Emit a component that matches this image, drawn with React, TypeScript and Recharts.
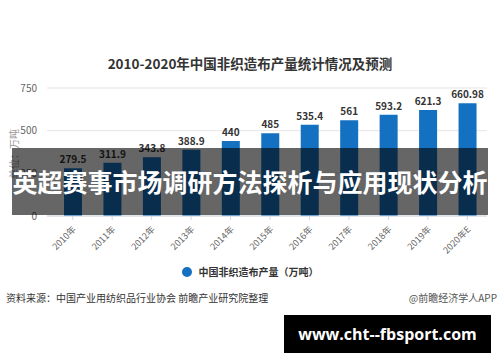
import React from 'react'
import { BarChart, Bar, XAxis, YAxis, CartesianGrid, LabelList } from 'recharts'

const years = ['2010年', '2011年', '2012年', '2013年', '2014年', '2015年', '2016年', '2017年', '2018年', '2019年', '2020年E']
const output = [279.5, 311.9, 343.8, 388.9, 440, 485, 535.4, 561, 593.2, 621.3, 660.98]
const yTicks = [0, 250, 500, 750]

const data = years.map((year, i) => ({ year, value: output[i] }))

const cjk = '"Noto Sans CJK SC", "Noto Sans", sans-serif'

function YearTick({ x, y, payload }: any) {
  return (
    <g transform={`translate(${x + 4},${y + 8})`}>
      <text textAnchor="end" transform="rotate(-45)" fontSize={9} fill="#666" fontFamily={cjk}>
        {payload.value}
      </text>
    </g>
  )
}

export default function App() {
  return (
    <div style={{ position: 'absolute', left: 0, top: 0, width: 500, height: 362, background: '#fff', overflow: 'hidden', fontFamily: cjk }}>
      <div style={{ position: 'absolute', left: 0, top: 53, width: 500, textAlign: 'center', fontSize: 13.5, fontWeight: 700, color: '#333', lineHeight: '20px' }}>
        2010-2020年中国非织造布产量统计情况及预测
      </div>

      <div style={{ position: 'absolute', left: 0, top: 0 }}>
        <BarChart width={500} height={362} data={data} margin={{ top: 88, right: 13, bottom: 116, left: 0 }}>
          <CartesianGrid horizontal vertical={false} stroke="#e5e5e5" />
          <XAxis
            dataKey="year"
            height={30}
            interval={0}
            padding={{ left: 6, right: 0 }}
            axisLine={{ stroke: '#cfd8e0' }}
            tickLine={{ stroke: '#cfd8e0' }}
            tickSize={4}
            tick={<YearTick />}
          />
          <YAxis
            width={47}
            domain={[0, 750]}
            ticks={yTicks}
            axisLine={false}
            tickLine={false}
            tickMargin={4}
            tick={{ fontSize: 10, fill: '#666', fontFamily: cjk }}
          />
          <Bar dataKey="value" name="中国非织造布产量（万吨）" fill="#1470c0" barSize={18} isAnimationActive={false}>
            <LabelList dataKey="value" position="top" offset={5} style={{ fontSize: 10, fontWeight: 700, fill: '#333', fontFamily: cjk }} />
          </Bar>
        </BarChart>
      </div>

      <div style={{ position: 'absolute', left: -11, top: 148, width: 50, height: 12, transform: 'rotate(-90deg)', fontSize: 10, lineHeight: '12px', color: '#999', textAlign: 'center', whiteSpace: 'nowrap' }}>
        单位：万吨
      </div>

      <div style={{ position: 'absolute', left: 0, top: 265, width: 500, display: 'flex', justifyContent: 'center', alignItems: 'center', fontSize: 10, fontWeight: 700, color: '#333', lineHeight: '14px' }}>
        <span style={{ display: 'inline-block', width: 10, height: 10, borderRadius: 5, background: '#1470c0', marginRight: 7 }} />
        中国非织造布产量（万吨）
      </div>

      <div style={{ position: 'absolute', left: 6, top: 291, fontSize: 10, color: '#333', lineHeight: '14px' }}>
        资料来源：中国产业用纺织品行业协会 前瞻产业研究院整理
      </div>
      <div style={{ position: 'absolute', right: 3, top: 291, fontSize: 10, color: '#555', lineHeight: '14px' }}>
        @前瞻经济学人APP
      </div>

      <div style={{ position: 'absolute', left: 12, top: 148, width: 476, height: 67, background: 'rgba(0,0,0,0.6)', color: '#fff', fontSize: 25, fontWeight: 700, lineHeight: '67px', textAlign: 'center', whiteSpace: 'nowrap' }}>
        英超赛事市场调研方法探析与应用现状分析
      </div>

      <div style={{ position: 'absolute', left: 284, top: 315, width: 207, height: 38, background: '#000', color: '#fff', fontSize: 16, fontWeight: 700, lineHeight: '38px', textAlign: 'center', fontFamily: '"Open Sans", sans-serif' }}>
        www.cht--fbsport.com
      </div>
    </div>
  )
}
